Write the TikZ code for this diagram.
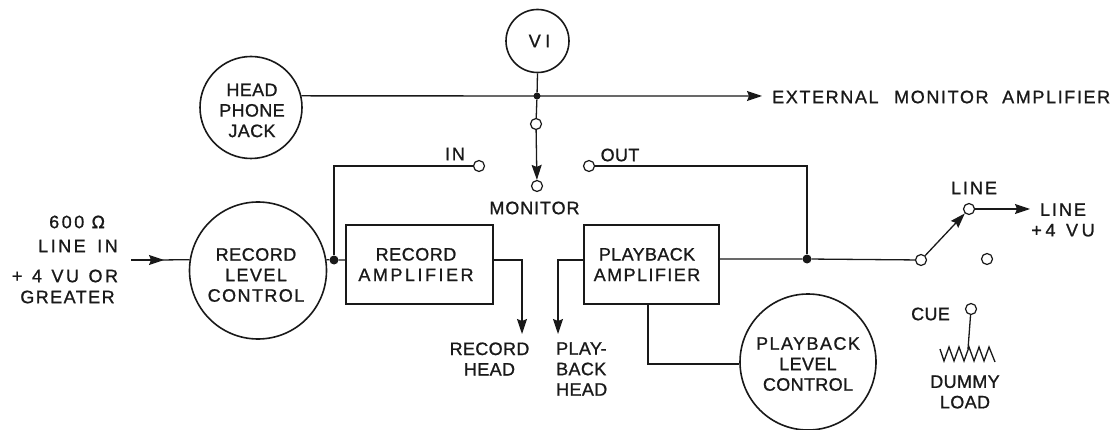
\documentclass[tikz,border=0pt]{standalone}
\usepackage{fontspec}
\setmainfont{Liberation Sans}
\usetikzlibrary{arrows.meta,calc}
\newcommand{\lbl}{\fontsize{18}{20.5}\selectfont\addfontfeatures{LetterSpace=2,FakeBold=1}}
\newcommand{\lblm}{\addfontfeatures{LetterSpace=8}}
\newcommand{\lblw}{\addfontfeatures{LetterSpace=14}}
\newcommand{\lbln}{\addfontfeatures{LetterSpace=3}}
\newfontfamily\symfont[FakeBold=1]{DejaVu Sans}
\tikzset{
 wire/.style={line width=1.3pt,black!90},
 big/.style={draw,circle,line width=1.6pt,black!90,inner sep=0pt},
 blockbox/.style={draw,line width=1.4pt,black!90,inner sep=0pt},
 term/.style={draw,circle,line width=1.2pt,black!90,fill=white,minimum size=11pt,inner sep=0pt},
 jdot/.style={fill,circle,black!90,minimum size=9pt,inner sep=0pt},
 lab/.style={align=center,font=\lbl,inner sep=0pt,text=black!90},
 tip/.style={-{Stealth[length=15pt,width=10pt,inset=2pt]}},
}
\begin{document}
\begin{tikzpicture}[x=1pt,y=-1pt]
\useasboundingbox (0,0) rectangle (1115,430);
\node[big,minimum size=63pt,label={[lab,xshift=2pt]center:{\addfontfeatures{LetterSpace=25}VI}}] (vi) at (537.5,41) {};
\node[big,minimum size=102pt,label={[lab,xshift=1pt,yshift=-3pt]center:{HEAD\\PHONE\\JACK}}] (hp) at (251,107.5) {};
\node[big,minimum size=137pt,label={[lab,xshift=-2pt,yshift=-4.5pt]center:{{\lbln RECORD}\\{\lblm LEVEL}\\{\lblm CONTROL}}}] (rlc) at (258,270.5) {};
\node[big,minimum size=136pt,label={[lab,yshift=-2pt]center:{\lblm PLAYBACK\\LEVEL\\CONTROL}}] (plc) at (808,362) {};
\node[blockbox,minimum width=147pt,minimum height=79pt,label={[lab,xshift=-3.5pt]center:{{\lbln RECORD}\\{\lblw AMPLIFIER}}}] (ra) at (419.5,264.5) {};
\node[blockbox,minimum width=135pt,minimum height=79pt,label={[lab,xshift=-4.5pt]center:{PLAYBACK\\\lblm AMPLIFIER}}] (pa) at (651.5,264.5) {};
\coordinate (x1) at (537,96);
\node[jdot,minimum size=7pt] (j1) at (x1) {};
\node[term] (t1) at (536,124) {};
\node[term] (mon) at (537,186) {};
\node[term] (in) at (479,166) {};
\node[term] (out) at (589,166) {};
\node[jdot] (j2) at (334,260) {};
\node[jdot] (j3) at (807,259) {};
\node[term] (s0) at (921,260) {};
\node[term] (s1) at (969,209) {};
\node[term] (s2) at (987,259) {};
\node[term] (cue) at (971,309) {};
\coordinate (ext) at (762,96);
\coordinate (ll) at (1030,209);
\coordinate (lin) at (131,260);
\coordinate (rh) at (522,334);
\coordinate (ph) at (558,334);
\coordinate (rtop) at (334,166);
\coordinate (otop) at (807,166);
\coordinate (ra1) at (522,260);
\coordinate (pa1) at (558,260);
\coordinate (pb) at (648,304);
\coordinate (pc) at (648,364);
\coordinate (r0) at (968,349);
% wires
\draw[wire,tip] (hp.13) -- (ext);
\draw[wire] (vi.south) -- (j1) -- (t1);
\draw[wire,tip] (t1) -- (mon);
\draw[wire] (j2) -- (rtop) -- (in);
\draw[wire] (j3) -- (otop) -- (out);
\draw[wire,tip] (lin) -- (164,260);
\draw[wire] (160,260) -- (rlc.171);
\draw[wire] (rlc.9) -- (j2) -- (ra.west|-j2);
\draw[wire,tip] (ra.east|-ra1) -- (ra1) -- (rh);
\draw[wire,tip] (pa.west|-pa1) -- (pa1) -- (ph);
\draw[wire] (pa.east|-j3) -- (j3) -- (s0);
\draw[wire] (pb) -- (pc) -- (plc.west|-pc);
\draw[wire,tip] (s0) -- (s1);
\draw[wire] (s1) -- (1012,209);
\draw[wire,tip] (1005,209) -- (ll);
\draw[wire] (cue) -- (r0);
\draw[wire] (940,349) -- (944,361) -- (949,347) -- (954,361) -- (959,347) -- (964,361) -- (969,347) -- (974,361) -- (979,347) -- (984,361) -- (989,347) -- (995,362);
% labels
\node[lab,anchor=west] at (772,97) {\addfontfeatures{LetterSpace=9}EXTERNAL\hspace{9pt} MONITOR\hspace{7pt} AMPLIFIER};
\node[lab] at (455,154) {\addfontfeatures{LetterSpace=10}IN};
\node[lab] at (620,155) {OUT};
\node[lab] at (534.5,208) {\addfontfeatures{LetterSpace=5}MONITOR};
\node[lab] at (77,222) {\lblw 600 {\symfont\fontsize{17}{17}\selectfont Ω}};
\node[lab] at (78,246) {\lblw LINE\hspace{4pt} IN};
\node[lab] at (65,276) {\lblw +\hspace{2pt} 4\hspace{2pt} VU\hspace{2pt} OR};
\node[lab] at (67.5,297) {\lblm GREATER};
\node[lab] at (489.5,359) {RECORD\\HEAD};
\node[lab,align=left,anchor=west] at (556,369) {PLAY-\\BACK\\HEAD};
\node[lab] at (974,188) {\addfontfeatures{LetterSpace=11}LINE};
\node[lab] at (1063,220) {{\addfontfeatures{LetterSpace=11}LINE}\\{\addfontfeatures{LetterSpace=20}+4\hspace{2pt} VU}};
\node[lab] at (930.5,314) {CUE};
\node[lab] at (965,392) {DUMMY\\LOAD};
\end{tikzpicture}
\end{document}
